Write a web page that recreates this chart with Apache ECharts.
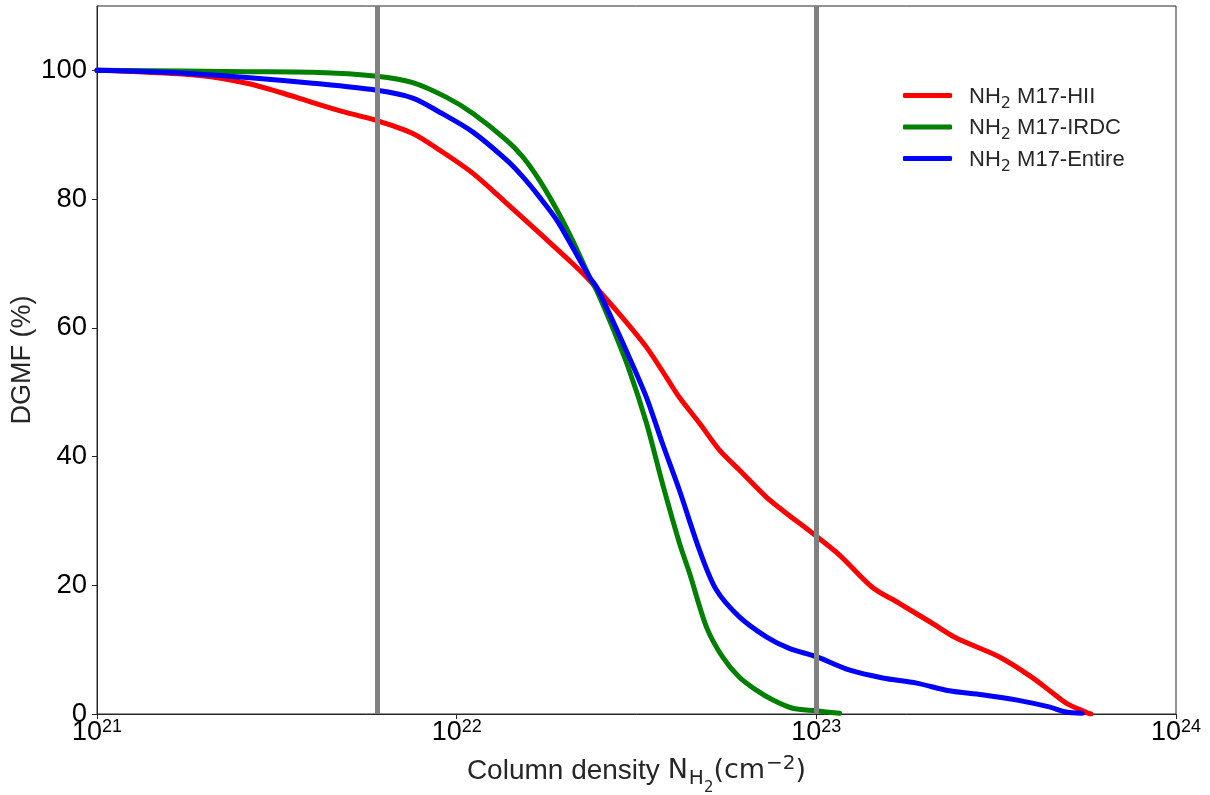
<!DOCTYPE html>
<html>
<head>
<meta charset="utf-8">
<title>DGMF</title>
<script src="https://cdn.jsdelivr.net/npm/echarts@6/dist/echarts.min.js"></script>
<style>
  html, body { margin: 0; padding: 0; background: #ffffff; }
  #chart { width: 1210px; height: 795px; }
</style>
</head>
<body>
<div id="chart"></div>
<script>
// Column density (cm^-2) and DGMF (%) for each region
const hiiN = [1.00e21, 1.38e21, 1.93e21, 2.61e21, 3.22e21, 3.98e21, 4.89e21, 6.00e21, 7.55e21, 8.97e21,
  1.11e22, 1.38e22, 1.70e22, 2.10e22, 2.34e22, 2.89e22, 3.37e22, 3.83e22, 4.16e22, 4.73e22,
  5.38e22, 6.11e22, 7.26e22, 8.25e22, 9.75e22, 1.16e23, 1.43e23, 1.70e23, 2.10e23, 2.45e23,
  3.22e23, 3.98e23, 4.53e23, 4.95e23, 5.66e23, 5.80e23];
const hiiDGMF = [100.0, 99.7, 99.2, 98.0, 96.6, 95.0, 93.5, 92.2, 90.2, 87.6,
  84.0, 79.3, 74.7, 70.0, 67.4, 61.6, 57.0, 52.3, 49.2, 45.2,
  41.0, 37.9, 33.7, 31.2, 28.1, 24.7, 19.7, 17.2, 14.1, 11.8,
  8.9, 5.7, 3.3, 1.7, 0.2, 0.0];

const irdcN = [1.00e21, 2.61e21, 3.98e21, 6.00e21, 7.55e21, 9.38e21, 1.11e22, 1.38e22, 1.53e22, 1.70e22,
  1.90e22, 2.10e22, 2.34e22, 2.45e22, 2.71e22, 3.02e22, 3.37e22, 3.73e22, 4.16e22, 4.44e22,
  4.95e22, 5.48e22, 6.11e22, 6.81e22, 7.55e22, 8.58e22, 1.00e23, 1.16e23];
const irdcDGMF = [100.0, 99.8, 99.7, 99.1, 98.1, 95.8, 93.3, 89.1, 86.5, 82.9,
  78.3, 73.6, 67.9, 65.8, 60.1, 53.4, 45.2, 35.9, 26.6, 21.9,
  13.5, 8.9, 5.7, 3.7, 2.2, 0.9, 0.5, 0.1];

const entireN = [1.00e21, 1.70e21, 2.61e21, 3.98e21, 6.00e21, 7.55e21, 8.97e21, 1.11e22, 1.38e22, 1.53e22,
  1.70e22, 1.90e22, 2.10e22, 2.34e22, 2.45e22, 2.71e22, 3.02e22, 3.37e22, 3.73e22, 4.16e22,
  4.73e22, 5.27e22, 6.11e22, 7.26e22, 8.41e22, 1.00e23, 1.24e23, 1.53e23, 1.90e23, 2.34e23,
  2.89e23, 3.59e23, 4.44e23, 4.95e23, 5.48e23];
const entireDGMF = [100.0, 99.6, 98.9, 98.0, 96.9, 95.7, 93.5, 90.4, 86.0, 83.4,
  80.3, 76.7, 72.5, 67.9, 66.3, 61.2, 55.4, 49.2, 42.1, 34.8,
  25.5, 19.3, 15.1, 12.0, 10.2, 8.9, 6.8, 5.6, 4.8, 3.6,
  3.0, 2.2, 1.1, 0.3, 0.1];

// Vertical reference column densities
const refLines = [6e21, 1e23];

// Axis tick values
const yTicks = [0, 20, 40, 60, 80, 100];

const seriesNames = ['HII', 'IRDC', 'Entire'];
const seriesColors = ['#ff0000', '#008000', '#0000ff'];

const FONT = '"Liberation Sans", Arial, sans-serif';
const MATH = '"DejaVu Sans", sans-serif';
const INK = '#000000';
const SOFT = '#262626';

function zip(xs, ys) {
  return xs.map((x, i) => [x, ys[i]]);
}

const lineSeries = [
  { name: seriesNames[0], data: zip(hiiN, hiiDGMF) },
  { name: seriesNames[1], data: zip(irdcN, irdcDGMF) },
  { name: seriesNames[2], data: zip(entireN, entireDGMF) }
].map((s, i) => ({
  name: s.name,
  type: 'line',
  data: s.data,
  showSymbol: false,
  smooth: 0.3,
  z: 2 + i,
  itemStyle: { color: seriesColors[i] },
  lineStyle: { color: seriesColors[i], width: 5, cap: 'round', join: 'round' },
  emphasis: { disabled: true }
}));

const chart = echarts.init(document.getElementById('chart'), null, { renderer: 'canvas' });

chart.setOption({
  backgroundColor: '#ffffff',
  animation: false,
  textStyle: { fontFamily: FONT },
  grid: {
    left: 97, right: 34, top: 6, bottom: 81,
    containLabel: false,
    outerBoundsMode: 'none',
    show: true, borderColor: SOFT, borderWidth: 1, backgroundColor: 'transparent'
  },
  legend: {
    data: seriesNames,
    orient: 'vertical',
    left: 903,
    top: 83.5,
    padding: 0,
    icon: 'roundRect',
    itemWidth: 49,
    itemHeight: 5,
    itemGap: 3.5,
    selectedMode: false,
    formatter: name => '{f|NH}{s|2}{a| M17-' + name + '}',
    textStyle: {
      color: SOFT,
      fontFamily: FONT,
      rich: {
        f: { fontSize: 22, lineHeight: 24, verticalAlign: 'top', padding: [2, 0, 0, 12], color: SOFT, fontFamily: FONT },
        s: { fontSize: 16, lineHeight: 16, verticalAlign: 'top', padding: [12, 0, 0, 0], color: SOFT, fontFamily: MATH },
        a: { fontSize: 22, lineHeight: 24, verticalAlign: 'top', padding: [2, 0, 0, 0], color: SOFT, fontFamily: FONT }
      }
    }
  },
  xAxis: {
    type: 'log',
    logBase: 10,
    min: 1e21,
    max: 1e24,
    name: '{a|Column density }{n|N}{h|H}{t|2}{n|(cm}{p|\u22122}{n|)}',
    nameLocation: 'middle',
    nameGap: 40,
    nameMoveOverlap: false,
    nameTextStyle: {
      color: SOFT,
      fontFamily: FONT,
      rich: {
        a: { fontSize: 28, lineHeight: 30, verticalAlign: 'top', padding: [3, 0, 0, 0], color: SOFT, fontFamily: FONT },
        n: { fontSize: 27, lineHeight: 30, verticalAlign: 'top', padding: [3, 0, 0, 0], color: SOFT, fontFamily: MATH },
        h: { fontSize: 20, lineHeight: 20, verticalAlign: 'top', padding: [15, 0, 0, 1], color: SOFT, fontFamily: MATH },
        t: { fontSize: 15, lineHeight: 15, verticalAlign: 'top', padding: [27, 0, 0, 0], color: SOFT, fontFamily: MATH },
        p: { fontSize: 20, lineHeight: 20, verticalAlign: 'top', padding: [0, 0, 0, 1], color: SOFT, fontFamily: MATH }
      }
    },
    axisLine: { show: true, onZero: false, lineStyle: { color: SOFT, width: 1 } },
    axisTick: { show: true, inside: false, length: 5, lineStyle: { color: SOFT, width: 1 } },
    minorTick: { show: false },
    splitLine: { show: false },
    axisLabel: {
      show: true,
      margin: 4,
      showMinLabel: true,
      showMaxLabel: true,
      hideOverlap: false,
      formatter: v => '{b|10}{e|' + Math.round(Math.log10(v)) + '}',
      rich: {
        b: { fontSize: 27, lineHeight: 30, verticalAlign: 'top', padding: [1, 0, 0, 0], color: INK, fontFamily: FONT },
        e: { fontSize: 18, lineHeight: 18, verticalAlign: 'top', padding: [0, 0, 0, 0], color: INK, fontFamily: FONT }
      }
    }
  },
  yAxis: {
    type: 'value',
    min: 0,
    max: 110,
    interval: 20,
    name: 'DGMF (%)',
    nameLocation: 'middle',
    nameGap: 59,
    nameMoveOverlap: false,
    nameTextStyle: { fontSize: 27, lineHeight: 30, color: SOFT, fontFamily: FONT },
    axisLine: { show: true, onZero: false, lineStyle: { color: SOFT, width: 1 } },
    axisTick: { show: true, inside: false, length: 5, lineStyle: { color: SOFT, width: 1 }, customValues: yTicks },
    splitLine: { show: false },
    axisLabel: {
      margin: 10,
      fontSize: 27.5,
      color: INK,
      fontFamily: FONT,
      showMinLabel: true,
      hideOverlap: false,
      customValues: yTicks
    }
  },
  series: lineSeries.concat([{
    name: 'ref',
    type: 'line',
    data: [],
    z: 10,
    silent: true,
    markLine: {
      silent: true,
      symbol: 'none',
      label: { show: false },
      emphasis: { disabled: true },
      animation: false,
      lineStyle: { color: '#808080', width: 5, type: 'solid', opacity: 1 },
      data: refLines.map(v => ({ xAxis: v }))
    }
  }])
});
</script>
</body>
</html>
